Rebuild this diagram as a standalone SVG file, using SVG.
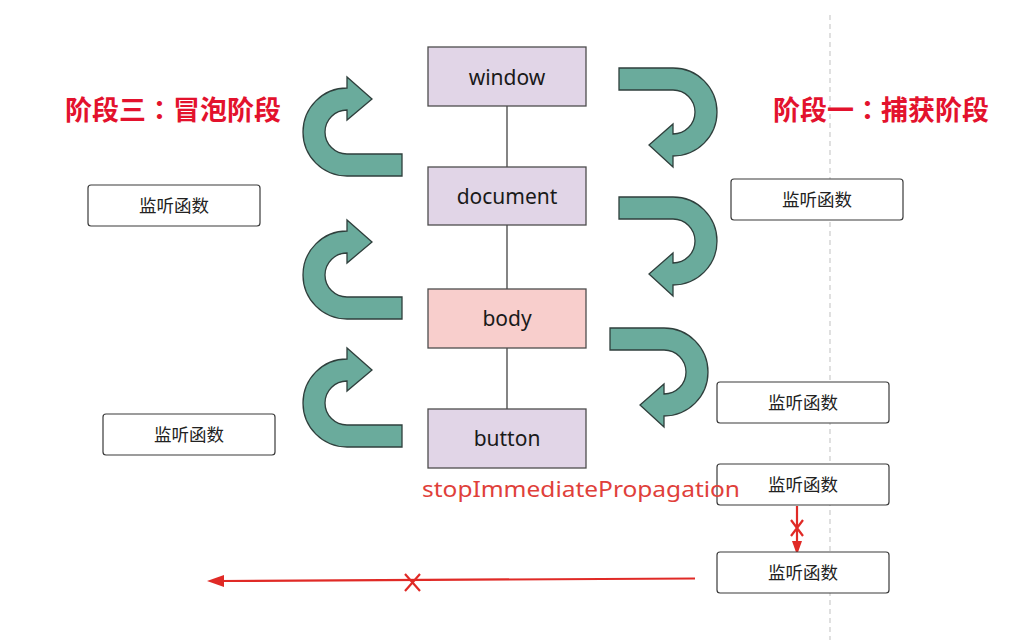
<svg xmlns="http://www.w3.org/2000/svg" width="1031" height="640" viewBox="0 0 1031 640">
<style>
.node{stroke:#4d4d4d;stroke-width:1.3}
.win{fill:#e1d5e7}
.bod{fill:#f8cecc}
.nt{font-family:"Noto Sans","Liberation Sans",sans-serif;font-size:21px;fill:#1a1a1a;text-anchor:middle}
.lis{fill:#ffffff;stroke:#3a3a3a;stroke-width:1.2}
.lt{font-family:"Noto Sans CJK SC","Noto Sans",sans-serif;font-size:17.5px;fill:#222;text-anchor:middle}
.stage{font-family:"Noto Sans CJK SC","Noto Sans",sans-serif;font-size:27px;font-weight:bold;fill:#e3122d}
.colon{font-family:"Noto Sans CJK TC","Noto Sans CJK SC",sans-serif}
.curve{fill:#6aab9c;stroke:#2f3f3c;stroke-width:1.3}
.red{stroke:#e02a26;stroke-width:2.2;fill:none}
.redf{fill:#e02a26}
</style>
<defs>
<path id="la" d="M55,44 L0,44 A44,44 0 0 1 0,-44 L0,-55 L25,-33 L0,-12 L0,-22 A22,22 0 0 0 0,22 L55,22 Z"/>
<path id="ra" d="M-54,-44 L0,-44 A44,44 0 0 1 0,44 L0,55 L-24,33 L0,12 L0,22 A22,22 0 0 0 0,-22 L-54,-22 Z"/>
</defs>
<rect width="1031" height="640" fill="#ffffff"/>
<line x1="830" y1="15" x2="830" y2="640" stroke="#cfcfcf" stroke-width="1.3" stroke-dasharray="5 4"/>

<g id="connectors">
<line x1="507" y1="106" x2="507" y2="167" stroke="#333" stroke-width="1.2"/>
<line x1="507" y1="225" x2="507" y2="289" stroke="#333" stroke-width="1.2"/>
<line x1="507" y1="348" x2="507" y2="409" stroke="#333" stroke-width="1.2"/>
<use href="#la" class="curve" transform="translate(347,132)"/>
<use href="#la" class="curve" transform="translate(347,275)"/>
<use href="#la" class="curve" transform="translate(347,403)"/>
<use href="#ra" class="curve" transform="translate(673,112)"/>
<use href="#ra" class="curve" transform="translate(673,241)"/>
<use href="#ra" class="curve" transform="translate(664,372)"/>
<g id="stop-vertical">
<line class="red" x1="797" y1="506" x2="797" y2="543"/>
<polygon class="redf" points="797,555 792,541 802,541"/>
<path class="red" d="M791,520 L803,536 M803,520 L791,536"/>
</g>
<g id="stop-horizontal">
<line class="red" x1="695" y1="578.5" x2="220" y2="581"/>
<polygon class="redf" points="207,581 224,575 224,587"/>
<path class="red" d="M405,574 L420,591 M420,574 L405,591"/>
</g>
</g>

<g id="stage3"><text class="stage" x="65" y="120">阶段三<tspan class="colon">：</tspan>冒泡阶段</text></g>
<g id="stage1"><text class="stage" x="773" y="120">阶段一<tspan class="colon">：</tspan>捕获阶段</text></g>

<g id="window"><rect class="node win" x="428" y="47" width="158" height="59"/><text class="nt" x="507" y="85">window</text></g>
<g id="document"><rect class="node win" x="428" y="167" width="158" height="58"/><text class="nt" x="507" y="204">document</text></g>
<g id="body"><rect class="node bod" x="428" y="289" width="158" height="59"/><text class="nt" x="507" y="326">body</text></g>
<g id="button"><rect class="node win" x="428" y="409" width="158" height="59"/><text class="nt" x="507" y="446">button</text></g>

<g id="listener-l1"><rect class="lis" x="88" y="185" width="172" height="41" rx="3"/><text class="lt" x="174" y="212">监听函数</text></g>
<g id="listener-r1"><rect class="lis" x="731" y="179" width="172" height="41" rx="3"/><text class="lt" x="817" y="206">监听函数</text></g>
<g id="listener-r2"><rect class="lis" x="717" y="382" width="172" height="41" rx="3"/><text class="lt" x="803" y="409">监听函数</text></g>
<g id="listener-l2"><rect class="lis" x="103" y="414" width="172" height="41" rx="3"/><text class="lt" x="189" y="441">监听函数</text></g>
<g id="listener-r3"><rect class="lis" x="717" y="464" width="172" height="41" rx="3"/><text class="lt" x="803" y="491">监听函数</text></g>
<g id="listener-r4"><rect class="lis" x="717" y="552" width="172" height="41" rx="3"/><text class="lt" x="803" y="579">监听函数</text></g>

<g id="stop-label"><text x="422" y="497" font-family="Noto Sans, Liberation Sans, sans-serif" font-size="22" fill="#e0403a" textLength="318" lengthAdjust="spacingAndGlyphs">stopImmediatePropagation</text></g>
</svg>
